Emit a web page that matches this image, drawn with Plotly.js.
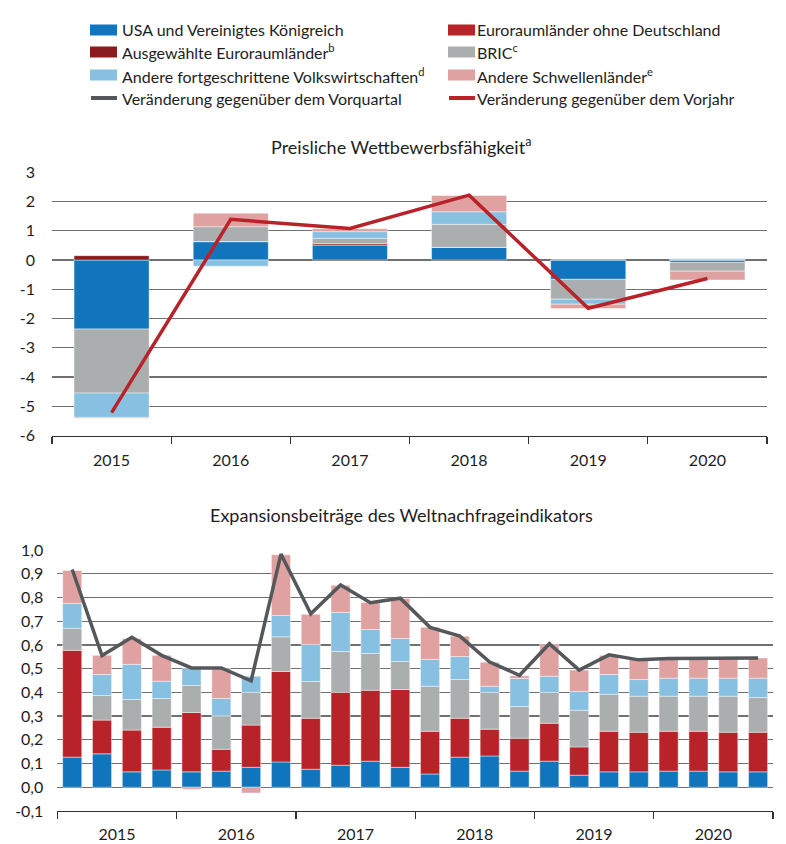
<!DOCTYPE html>
<html><head><meta charset="utf-8">
<script src="https://cdn.plot.ly/plotly-3.0.1.min.js"></script>
<style>html,body{margin:0;padding:0;background:#fff}#chart{width:786px;height:844px}</style>
</head><body><div id="chart"></div>
<script>
// ---- Top chart: Preisliche Wettbewerbsfähigkeit ----
const years = ['2015','2016','2017','2018','2019','2020'];
const pUSA        = [-2.36, 0.63, 0.51, 0.43, -0.66, -0.08];
const pAusgew     = [ 0.15, 0.00, 0.05, 0.00,  0.00,  0.00];
const pBRIC       = [-2.19, 0.51, 0.18, 0.79, -0.68, -0.30];
const pAndereFort = [-0.83,-0.21, 0.23, 0.43, -0.17,  0.04];
const pAndereSchw = [-0.03, 0.46, 0.10, 0.56, -0.15, -0.30];
const pVorjahr    = [-5.22, 1.39, 1.08, 2.22, -1.65, -0.63];
const topTickVals = [-6,-5,-4,-3,-2,-1,0,1,2,3];
const topTickText = ['-6','-5','-4','-3','-2','-1','0','1','2','3'];

// ---- Bottom chart: Expansionsbeiträge des Weltnachfrageindikators ----
const quarters = ['2015Q1','2015Q2','2015Q3','2015Q4','2016Q1','2016Q2','2016Q3','2016Q4',
                  '2017Q1','2017Q2','2017Q3','2017Q4','2018Q1','2018Q2','2018Q3','2018Q4',
                  '2019Q1','2019Q2','2019Q3','2019Q4','2020Q1','2020Q2','2020Q3','2020Q4'];
const wUSA  = [0.127,0.141,0.065,0.073,0.065,0.068,0.084,0.107,0.076,0.093,0.110,0.084,
               0.056,0.127,0.132,0.068,0.110,0.051,0.065,0.065,0.068,0.068,0.065,0.065];
const wEuro = [0.450,0.142,0.176,0.180,0.250,0.092,0.178,0.381,0.215,0.307,0.299,0.328,
               0.180,0.164,0.113,0.139,0.160,0.119,0.171,0.167,0.168,0.168,0.167,0.167];
const wBRIC = [0.093,0.104,0.129,0.121,0.114,0.141,0.138,0.146,0.155,0.172,0.155,0.118,
               0.190,0.163,0.155,0.133,0.130,0.155,0.156,0.152,0.148,0.148,0.152,0.146];
const wAF   = [0.105,0.088,0.148,0.073,0.072,0.073,0.068,0.090,0.156,0.165,0.101,0.097,
               0.113,0.097,0.026,0.119,0.068,0.079,0.083,0.070,0.076,0.076,0.076,0.082];
const wAS   = [0.139,0.081,0.109,0.109,-0.008,0.127,-0.024,0.256,0.127,0.114,0.114,0.169,
               0.135,0.086,0.101,0.011,0.135,0.090,0.081,0.085,0.083,0.083,0.083,0.085];
const wVorquartal = [0.918,0.555,0.632,0.556,0.503,0.503,0.449,0.983,0.731,0.853,0.778,0.797,
                     0.674,0.637,0.528,0.472,0.605,0.494,0.558,0.537,0.543,0.543,0.543,0.545];
const botTickVals = [-0.1,0,0.1,0.2,0.3,0.4,0.5,0.6,0.7,0.8,0.9,1.0];
const botTickText = ['-0,1','0,0','0,1','0,2','0,3','0,4','0,5','0,6','0,7','0,8','0,9','1,0'];

// ---- Legend entries ----
const legendNames = ['USA und Vereinigtes Königreich','Euroraumländer ohne Deutschland',
  'Ausgewählte Euroraumländer<sup>b</sup>','BRIC<sup>c</sup>',
  'Andere fortgeschrittene Volkswirtschaften<sup>d</sup>','Andere Schwellenländer<sup>e</sup>',
  'Veränderung gegenüber dem Vorquartal','Veränderung gegenüber dem Vorjahr'];

const C = {usa:'#1175be', euro:'#b8232a', ausg:'#8a1b1f', bric:'#abaeae', af:'#87c0e0', as:'#e0a1a1', vq:'#55585a', vj:'#b8232a'};
const legendColors = [C.usa, C.euro, C.ausg, C.bric, C.af, C.as, C.vq, C.vj];
const legendKinds = ['bar','bar','bar','bar','bar','bar','line','line'];

const W = 786, H = 844;
const px = x => x / W, py = y => 1 - y / H;
const FONT = 'Lato, "Source Sans Pro", sans-serif';
const TXT = '#1e1e1e';

function bar(x, y, color, xa, ya) {
  return {type:'bar', x:x, y:y, xaxis:xa, yaxis:ya,
    marker:{color:color, line:{color:'rgba(255,255,255,0.55)', width:0.8}},
    showlegend:false, hoverinfo:'skip'};
}
const qx = quarters.map((q,i) => i);

const traces = [
  bar(years, pUSA, C.usa, 'x', 'y'),
  bar(years, pAusgew, C.ausg, 'x', 'y'),
  bar(years, pBRIC, C.bric, 'x', 'y'),
  bar(years, pAndereFort, C.af, 'x', 'y'),
  bar(years, pAndereSchw, C.as, 'x', 'y'),
  {type:'scatter', mode:'lines', x:years, y:pVorjahr, xaxis:'x', yaxis:'y',
   line:{color:C.vj, width:3.5}, showlegend:false, hoverinfo:'skip'},
  bar(qx, wUSA, C.usa, 'x2', 'y2'),
  bar(qx, wEuro, C.euro, 'x2', 'y2'),
  bar(qx, wBRIC, C.bric, 'x2', 'y2'),
  bar(qx, wAF, C.af, 'x2', 'y2'),
  bar(qx, wAS, C.as, 'x2', 'y2'),
  {type:'scatter', mode:'lines', x:qx, y:wVorquartal, xaxis:'x2', yaxis:'y2',
   line:{color:C.vq, width:3.5}, showlegend:false, hoverinfo:'skip'}
];

// legend drawn as shapes + annotations
const shapes = [], annotations = [];
const colX = [90, 448], textX = [120, 475], rowY = [30, 52, 75, 98];
legendNames.forEach((name, i) => {
  const col = i % 2, row = Math.floor(i / 2);
  const x0 = colX[col], x1 = colX[col] + 27, yc = rowY[row];
  if (legendKinds[i] === 'bar') {
    shapes.push({type:'rect', xref:'paper', yref:'paper', x0:px(x0), x1:px(x1),
      y0:py(yc + 5.5), y1:py(yc - 5.5), fillcolor:legendColors[i], line:{width:0}});
  } else {
    shapes.push({type:'line', xref:'paper', yref:'paper', x0:px(x0 + 1), x1:px(x1),
      y0:py(yc), y1:py(yc), line:{color:legendColors[i], width:4}});
  }
  annotations.push({text:name, xref:'paper', yref:'paper', x:px(textX[col]), y:py(yc),
    xanchor:'left', yanchor:'middle', showarrow:false, font:{size:16, color:TXT, family:FONT}});
});
annotations.push({text:'Preisliche Wettbewerbsfähigkeit<sup>a</sup>', xref:'paper', yref:'paper',
  x:px(401), y:py(146), xanchor:'center', yanchor:'middle', showarrow:false,
  font:{size:18, color:TXT, family:FONT}});
annotations.push({text:'Expansionsbeiträge des Weltnachfrageindikators', xref:'paper', yref:'paper',
  x:px(402), y:py(515), xanchor:'center', yanchor:'middle', showarrow:false,
  font:{size:18, color:TXT, family:FONT}});

const GRID = '#707070', AX = '#333';
const layout = {
  width:W, height:H, margin:{l:0, r:0, t:0, b:0},
  paper_bgcolor:'#fff', plot_bgcolor:'#fff',
  font:{family:FONT, color:TXT, size:16},
  barmode:'relative', bargap:0.37, showlegend:false,
  xaxis:{domain:[px(52), px(767)], anchor:'y', type:'category', tickson:'boundaries',
    ticks:'outside', ticklen:7, tickcolor:AX, tickwidth:1.3, showline:true, linecolor:AX,
    linewidth:1.3, showgrid:false, zeroline:false, tickfont:{size:16, color:TXT}, ticklabelstandoff:10,
    fixedrange:true},
  yaxis:{domain:[py(435.5), py(172.3)], anchor:'x', range:[-6,3], tickmode:'array',
    tickvals:topTickVals, ticktext:topTickText, showgrid:true, gridcolor:GRID, gridwidth:1.3,
    zeroline:false, showline:false, ticks:'', ticklabelstandoff:16, tickfont:{size:16, color:TXT}},
  xaxis2:{domain:[px(57.3), px(773)], anchor:'y2', range:[-0.5, 23.5], tickmode:'array',
    tickvals:years.map((y,i) => i*4 + 1.5), ticktext:years, ticks:'', showline:true,
    linecolor:AX, linewidth:1.3, showgrid:false, zeroline:false, tickfont:{size:16, color:TXT},
    ticklabelstandoff:8,
    minor:{tickmode:'array', tickvals:years.map((y,i) => i*4 - 0.5).concat([23.5]),
      ticks:'outside', ticklen:7, tickcolor:AX, tickwidth:1.3, showgrid:false}},
  yaxis2:{domain:[py(811), py(550)], anchor:'x2', range:[-0.1, 1.0], tickmode:'array',
    tickvals:botTickVals, ticktext:botTickText, showgrid:true, gridcolor:GRID, gridwidth:1.3,
    zeroline:false, showline:false, ticks:'', ticklabelstandoff:13, tickfont:{size:16, color:TXT}},
  shapes:shapes, annotations:annotations
};
traces.forEach(t => { if (t.type === 'bar' && t.xaxis === 'x2') t.width = 0.64; });

Plotly.newPlot('chart', traces, layout, {staticPlot:true, displayModeBar:false});
</script>
</body></html>
